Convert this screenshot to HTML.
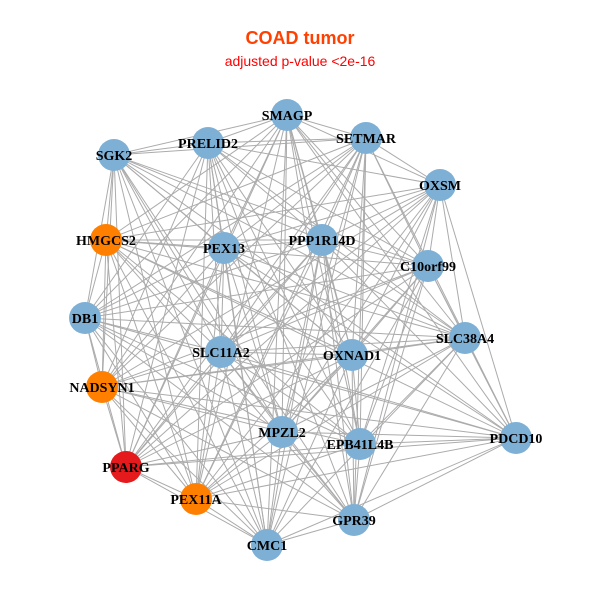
<!DOCTYPE html>
<html><head><meta charset="utf-8"><style>
html,body{margin:0;padding:0;background:#fff}
svg{display:block}
.l{font-family:"Liberation Serif",serif;font-weight:bold;font-size:14px;fill:#000;text-anchor:middle}
</style></head><body>
<svg id="s" width="600" height="600" viewBox="0 0 600 600" xmlns="http://www.w3.org/2000/svg">
<rect width="600" height="600" fill="#fff"/>
<text x="300" y="44" text-anchor="middle" style="font-family:'Liberation Sans',sans-serif;font-weight:bold;font-size:18px;fill:#ff4000">COAD tumor</text>
<text x="300" y="66" text-anchor="middle" style="font-family:'Liberation Sans',sans-serif;font-size:14px;fill:#ff0000">adjusted p-value &lt;2e-16</text>
<g id="edges" stroke="#ababab" stroke-width="1"></g>
<g id="nodes"></g>
<g>
<text class="l" x="287" y="120">SMAGP</text>
<text class="l" x="208" y="148">PRELID2</text>
<text class="l" x="366" y="143">SETMAR</text>
<text class="l" x="114" y="160">SGK2</text>
<text class="l" x="440" y="190">OXSM</text>
<text class="l" x="106" y="245">HMGCS2</text>
<text class="l" x="224" y="253">PEX13</text>
<text class="l" x="322" y="245">PPP1R14D</text>
<text class="l" x="428" y="271">C10orf99</text>
<text class="l" x="85" y="323">DB1</text>
<text class="l" x="465" y="343">SLC38A4</text>
<text class="l" x="221" y="357">SLC11A2</text>
<text class="l" x="352" y="360">OXNAD1</text>
<text class="l" x="102" y="392">NADSYN1</text>
<text class="l" x="282" y="437">MPZL2</text>
<text class="l" x="360" y="449">EPB41L4B</text>
<text class="l" x="516" y="443">PDCD10</text>
<text class="l" x="126" y="472">PPARG</text>
<text class="l" x="196" y="504">PEX11A</text>
<text class="l" x="354" y="525">GPR39</text>
<text class="l" x="267" y="550">CMC1</text>
</g>
</svg>
<script>
var N=[[287,115,0],[208,143,0],[366,138,0],[114,155,0],[440,185,0],[106,240,1],[224,248,0],[322,240,0],[428,266,0],[85,318,0],[465,338,0],[221,352,0],[352,355,0],[102,387,1],[282,432,0],[360,444,0],[516,438,0],[126,467,2],[196,499,1],[354,520,0],[267,545,0]];
var C=["#7eb0d6","#ff8000","#e41a1c"],ns="http://www.w3.org/2000/svg";
var E=document.getElementById("edges"),G=document.getElementById("nodes");
for(var i=0;i<N.length;i++)for(var j=i+1;j<N.length;j++){
 if((i*7+j*3)%11==0)continue;
 var l=document.createElementNS(ns,"line");
 l.setAttribute("x1",N[i][0]);l.setAttribute("y1",N[i][1]);l.setAttribute("x2",N[j][0]);l.setAttribute("y2",N[j][1]);E.appendChild(l);}
N.forEach(function(n){var c=document.createElementNS(ns,"circle");c.setAttribute("cx",n[0]);c.setAttribute("cy",n[1]);c.setAttribute("r",16);c.setAttribute("fill",C[n[2]]);G.appendChild(c);});
</script>
</body></html>
